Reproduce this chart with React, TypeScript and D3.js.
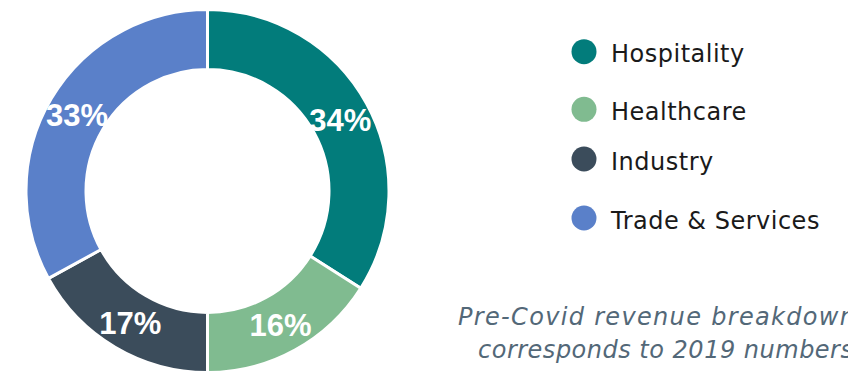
import React from "react";
import * as d3 from "d3";

const categories = ["Hospitality", "Healthcare", "Industry", "Trade & Services"];
const values = [34, 16, 17, 33];
const colors = ["#027c7b", "#80bb90", "#3b4c5b", "#5a80c9"];
const captionLines = ["Pre-Covid revenue breakdown", "corresponds to 2019 numbers"];

const W = 848;
const H = 371;
const cx = 207.5;
const cy = 191;
const outerR = 181.5;
const innerR = 121.5;

export default function App() {
  const pie = d3.pie<number>().sort(null).value((d) => d);
  const arcs = pie(values);
  const arcGen = d3.arc<d3.PieArcDatum<number>>().innerRadius(innerR).outerRadius(outerR);

  const legendYs = [51.7, 109.3, 159, 218];
  const captionPos = [
    { x: 458, y: 325, len: 397 },
    { x: 478, y: 358, len: 375 },
  ];

  return (
    <svg
      width={W}
      height={H}
      style={{ position: "absolute", left: 0, top: 0, background: "#fff" }}
    >
      <g transform={`translate(${cx},${cy})`}>
        {arcs.map((a, i) => (
          <path key={i} d={arcGen(a) || ""} fill={colors[i]} stroke="#fff" strokeWidth={3} />
        ))}
        {arcs.map((a, i) => {
          const [x, y] = arcGen.centroid(a);
          return (
            <text
              key={"l" + i}
              x={x}
              y={y + 2}
              textAnchor="middle"
              dominantBaseline="central"
              fill="#fff"
              fontFamily="'Liberation Sans', Arial, sans-serif"
              fontWeight="bold"
              fontSize={31}
            >
              {`${values[i]}%`}
            </text>
          );
        })}
      </g>
      {categories.map((c, i) => {
        const y = legendYs[i];
        return (
          <g key={c}>
            <circle cx={584} cy={y} r={12.5} fill={colors[i]} />
            <text
              x={611}
              y={y + 10.5}
              fontFamily="'DejaVu Sans', sans-serif"
              fontSize={24}
              letterSpacing={0.5}
              fill="#1a1a1a"
            >
              {c}
            </text>
          </g>
        );
      })}
      {captionLines.map((t, i) => (
        <text
          key={t}
          x={captionPos[i].x}
          y={captionPos[i].y}
          fontFamily="'DejaVu Sans', sans-serif"
          fontStyle="italic"
          fontSize={24}
          textLength={captionPos[i].len}
          lengthAdjust="spacing"
          fill="#536878"
        >
          {t}
        </text>
      ))}
    </svg>
  );
}
